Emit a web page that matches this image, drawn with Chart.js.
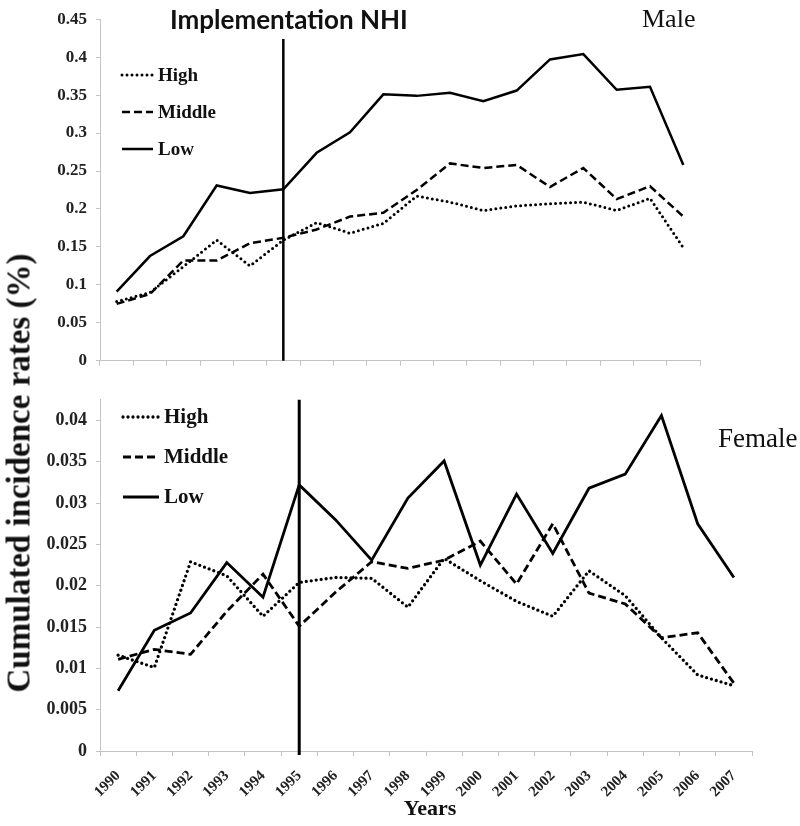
<!DOCTYPE html>
<html>
<head>
<meta charset="utf-8">
<script src="https://cdn.jsdelivr.net/npm/chart.js@4.4.1/dist/chart.umd.min.js"></script>
<style>
  html, body { margin: 0; padding: 0; background: #fff; }
  #wrap { position: relative; width: 800px; height: 826px; overflow: hidden; }
  canvas { position: absolute; left: 0; }
  #male { top: 0; }
  #female { top: 380px; }
  .txt { position: absolute; white-space: nowrap; color: #111; line-height: 1; }
  #yTitle { font: bold 33px "Liberation Serif"; left: 19px; top: 473px; transform: translate(-50%, -50%) rotate(-90deg); }
  #xTitle { font: bold 22px "Liberation Serif"; left: 430px; top: 808px; transform: translate(-50%, -50%); }
  #nhi { font: bold 26px Lato; left: 170px; top: 3px; }
  #maleLbl { font: 26px "Liberation Serif"; left: 642px; top: 4px; }
  #femaleLbl { font: 27px "Liberation Serif"; left: 718px; top: 423px; }
</style>
</head>
<body>
<div id="wrap">
  <canvas id="male" width="800" height="380"></canvas>
  <canvas id="female" width="800" height="446"></canvas>
  <div class="txt" id="yTitle">Cumulated incidence rates (%)</div>
  <div class="txt" id="xTitle">Years</div>
  <div class="txt" id="nhi">Implementation NHI</div>
  <div class="txt" id="maleLbl">Male</div>
  <div class="txt" id="femaleLbl">Female</div>
</div>
<script>
// Data
const years = ['1990', '1991', '1992', '1993', '1994', '1995', '1996', '1997', '1998',
               '1999', '2000', '2001', '2002', '2003', '2004', '2005', '2006', '2007'];
const groups = ['High', 'Middle', 'Low'];

const maleHigh   = [0.078, 0.090, 0.124, 0.159, 0.125, 0.159, 0.182, 0.168, 0.181,
                    0.217, 0.209, 0.198, 0.204, 0.207, 0.209, 0.198, 0.214, 0.149];
const maleMiddle = [0.075, 0.088, 0.132, 0.132, 0.155, 0.162, 0.173, 0.190, 0.195,
                    0.225, 0.260, 0.254, 0.258, 0.229, 0.254, 0.213, 0.230, 0.190];
const maleLow    = [0.091, 0.138, 0.164, 0.231, 0.221, 0.226, 0.274, 0.301, 0.351,
                    0.349, 0.353, 0.342, 0.356, 0.397, 0.404, 0.357, 0.361, 0.258];

const femaleHigh   = [0.0116, 0.0101, 0.0229, 0.0212, 0.0163, 0.0204, 0.0210, 0.0209, 0.0174,
                      0.0233, 0.0206, 0.0181, 0.0163, 0.0218, 0.0188, 0.0137, 0.0092, 0.0079];
const femaleMiddle = [0.0111, 0.0123, 0.0117, 0.0169, 0.0214, 0.0151, 0.0192, 0.0229, 0.0221,
                      0.0231, 0.0254, 0.0202, 0.0275, 0.0191, 0.0178, 0.0137, 0.0143, 0.0082];
const femaleLow    = [0.0073, 0.0146, 0.0167, 0.0228, 0.0186, 0.0322, 0.0280, 0.0231, 0.0306,
                      0.0351, 0.0225, 0.0311, 0.0239, 0.0318, 0.0335, 0.0406, 0.0275, 0.0210];

const maleTicks   = [0, 0.05, 0.1, 0.15, 0.2, 0.25, 0.3, 0.35, 0.4, 0.45];
const femaleTicks = [0, 0.005, 0.01, 0.015, 0.02, 0.025, 0.03, 0.035, 0.04];

const nhiYear = '1995';
const nhiTopMale = 0.424;

const axisGray = '#c4c4c4';
const serif = '"Liberation Serif", "Times New Roman", serif';

// line styles for High / Middle / Low
function styleFor(name, width) {
    if (name === 'High') return { borderDash: [0, 5], borderCapStyle: 'round', borderWidth: width + 0.5 };
    if (name === 'Middle') return { borderDash: [8, 4], borderCapStyle: 'butt', borderWidth: width };
    return { borderDash: [], borderCapStyle: 'butt', borderWidth: width };
}

function makeDatasets(seriesList, width) {
    return seriesList.map((data, i) => Object.assign({
        label: groups[i],
        data: data,
        borderColor: '#000',
        backgroundColor: 'transparent',
        pointRadius: 0,
        tension: 0,
        fill: false
    }, styleFor(groups[i], width)));
}

function fmtTick(v) {
    return String(Number(v.toFixed(4)));
}

// NHI line + hand-drawn legend with line samples
function overlayPlugin(o) {
    return {
        id: 'overlay',
        afterDatasetsDraw(chart) {
            const ctx = chart.ctx;
            const xs = chart.scales.x, ys = chart.scales.y;
            const px = xs.getPixelForValue(years.indexOf(nhiYear));
            ctx.save();
            ctx.strokeStyle = '#000';
            ctx.lineWidth = o.nhiWidth;
            ctx.beginPath();
            ctx.moveTo(px, o.nhiTop != null ? ys.getPixelForValue(o.nhiTop) : chart.chartArea.top);
            ctx.lineTo(px, ys.bottom + o.nhiExtra);
            ctx.stroke();

            chart.data.datasets.forEach((ds, i) => {
                const ly = o.legendY + i * o.legendGap;
                ctx.setLineDash(ds.borderDash);
                ctx.lineCap = ds.borderCapStyle;
                ctx.lineWidth = ds.borderWidth;
                ctx.beginPath();
                ctx.moveTo(o.legendX, ly);
                ctx.lineTo(o.legendX + o.legendLen, ly);
                ctx.stroke();
                ctx.setLineDash([]);
                ctx.fillStyle = '#111';
                ctx.font = o.legendFont;
                ctx.textBaseline = 'middle';
                ctx.fillText(ds.label, o.legendX + o.legendLen + 5, ly + 1);
            });
            ctx.restore();
        }
    };
}

function makeOptions(cfg) {
    return {
        responsive: false,
        animation: false,
        layout: { padding: cfg.padding },
        plugins: { legend: { display: false }, tooltip: { enabled: false } },
        scales: {
            x: {
                type: 'category',
                offset: true,
                grid: { offset: true, drawOnChartArea: false, drawTicks: true, tickLength: 5, color: axisGray },
                border: { color: axisGray },
                ticks: cfg.xTicks,
                afterFit: s => { s.height = cfg.xHeight; }
            },
            y: {
                min: 0,
                max: cfg.yMax,
                afterBuildTicks: s => { s.ticks = cfg.yTicks.map(v => ({ value: v })); },
                afterFit: s => { s.width = 100; },
                grid: { drawOnChartArea: false, tickLength: 4, color: axisGray },
                border: { color: axisGray },
                ticks: {
                    padding: 9,
                    color: '#222',
                    font: { family: serif, weight: 'bold', size: cfg.yFont },
                    callback: v => fmtTick(v)
                }
            }
        }
    };
}

new Chart(document.getElementById('male'), {
    type: 'line',
    data: { labels: years, datasets: makeDatasets([maleHigh, maleMiddle, maleLow], 2.5) },
    options: makeOptions({
        padding: { left: 0, right: 100, top: 12, bottom: 0 },
        xHeight: 8,
        xTicks: { display: false },
        yMax: 0.45,
        yTicks: maleTicks,
        yFont: 17
    }),
    plugins: [overlayPlugin({
        nhiWidth: 2.5, nhiTop: nhiTopMale, nhiExtra: 0,
        legendX: 122, legendY: 75, legendGap: 37, legendLen: 31,
        legendFont: 'bold 19px ' + serif
    })]
});

new Chart(document.getElementById('female'), {
    type: 'line',
    data: { labels: years, datasets: makeDatasets([femaleHigh, femaleMiddle, femaleLow], 2.8) },
    options: makeOptions({
        padding: { left: 0, right: 48, top: 5, bottom: 0 },
        xHeight: 75,
        xTicks: {
            autoSkip: false, minRotation: 45, maxRotation: 45, padding: 11,
            color: '#222',
            font: { family: serif, weight: 'bold', size: 15 }
        },
        yMax: 0.0425,
        yTicks: femaleTicks,
        yFont: 18
    }),
    plugins: [overlayPlugin({
        nhiWidth: 3, nhiTop: null, nhiExtra: 4,
        legendX: 123, legendY: 37, legendGap: 40, legendLen: 36,
        legendFont: 'bold 21px ' + serif
    })]
});
</script>
</body>
</html>
